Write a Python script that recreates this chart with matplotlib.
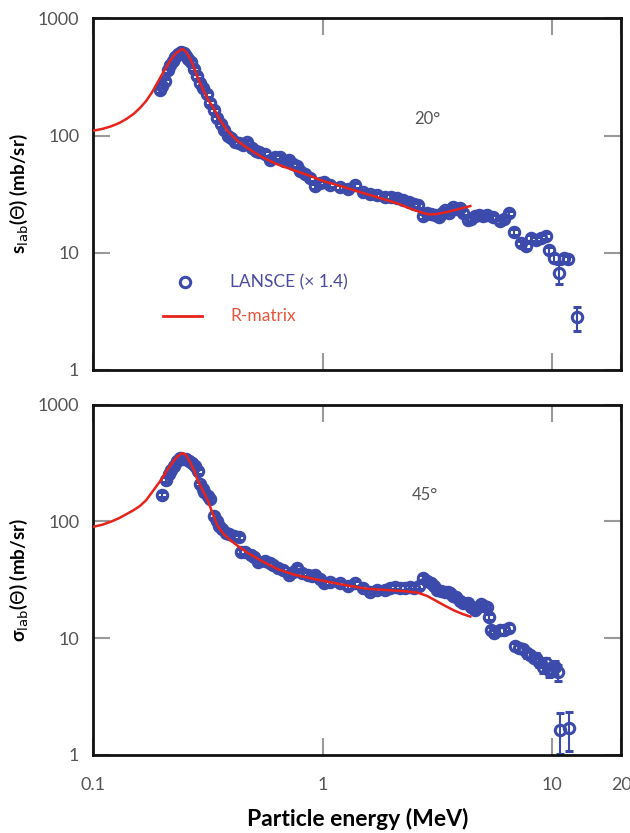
import numpy as np
import matplotlib
matplotlib.use("Agg")
import matplotlib.pyplot as plt

# LANSCE data, 20 deg (MeV, mb/sr)
e20 = [0.196, 0.200, 0.206, 0.212, 0.216, 0.222, 0.228, 0.235, 0.242, 0.248,
       0.254, 0.260, 0.267, 0.275, 0.284, 0.293, 0.302, 0.312, 0.324, 0.335,
       0.348, 0.360, 0.372, 0.385, 0.400, 0.415, 0.430, 0.450, 0.470, 0.490,
       0.510, 0.530, 0.560, 0.590, 0.620, 0.650, 0.680, 0.710, 0.740, 0.770,
       0.800, 0.840, 0.880, 0.930, 0.970, 1.010, 1.080, 1.190, 1.290, 1.390,
       1.500, 1.610, 1.730, 1.860, 1.980, 2.100, 2.230, 2.370, 2.500, 2.600,
       2.740, 2.850, 2.970, 3.080, 3.200, 3.300, 3.400, 3.550, 3.700, 3.850,
       3.950, 4.100, 4.300, 4.450, 4.600, 4.800, 5.000, 5.200, 5.550, 5.900,
       6.200, 6.500, 6.850, 7.300, 7.700, 8.100, 8.500, 8.900, 9.400, 9.700,
       10.20, 10.70, 11.30, 11.70, 12.80]
s20 = [243, 265, 290, 360, 400, 430, 470, 500, 515, 505,
       480, 450, 420, 370, 320, 280, 253, 225, 190, 165,
       140, 125, 112, 100, 95, 88, 86, 83, 88, 78,
       74, 72, 70, 62, 66, 65, 60, 62, 57, 55,
       50, 47, 43, 37, 39, 40, 38, 36, 35, 37.7,
       33, 31.6, 31, 30, 30, 29, 28, 27, 26, 25.5,
       20.5, 22, 21.5, 21, 20, 22, 23, 22, 24.5, 23.5,
       24, 22, 19, 19.5, 20.5, 21, 20.5, 21, 20, 18.5,
       19.5, 21.8, 15, 12, 11.5, 13.4, 12.8, 13.4, 14, 10.5,
       9, 6.7, 9, 8.8, 2.8]
err20 = [12, 13, 14, 18, 20, 21, 23, 25, 26, 25,
         24, 22, 21, 18, 16, 14, 13, 11, 9, 8,
         7, 6, 5.6, 5, 4.7, 4.4, 4.3, 4.1, 4.4, 3.9,
         3.7, 3.6, 3.5, 3.1, 3.3, 3.2, 3.0, 3.1, 2.8, 2.7,
         2.5, 2.3, 2.1, 1.8, 1.9, 2.0, 1.9, 1.8, 1.7, 1.9,
         1.6, 1.6, 1.5, 1.5, 1.5, 1.4, 1.4, 1.3, 1.3, 1.3,
         1.0, 1.1, 1.1, 1.0, 1.0, 1.1, 1.1, 1.1, 1.2, 1.2,
         1.2, 1.1, 1.0, 1.0, 1.0, 1.0, 1.0, 1.0, 1.0, 0.9,
         1.0, 1.1, 0.8, 0.7, 0.7, 0.8, 0.8, 0.8, 0.8, 0.7,
         0.7, 1.3, 0.6, 0.6, 0.65]

# R-matrix, 20 deg
rm20_e = [0.100, 0.110, 0.120, 0.130, 0.140, 0.150, 0.160, 0.170, 0.180, 0.190,
          0.200, 0.210, 0.220, 0.230, 0.240, 0.247, 0.255, 0.265, 0.275, 0.284,
          0.300, 0.315, 0.334, 0.355, 0.384, 0.420, 0.470, 0.540, 0.630, 0.740,
          0.860, 1.00, 1.20, 1.45, 1.75, 2.10, 2.45, 2.70, 2.90, 3.10,
          3.40, 3.80, 4.40]
rm20_s = [110, 114, 120, 128, 139, 153, 172, 197, 232, 280,
          335, 395, 455, 505, 538, 545, 510, 450, 380, 320,
          250, 205, 173, 138, 110, 92, 78, 66, 57, 51,
          46, 41, 37, 33, 29.5, 26.5, 23.5, 22, 21.2, 21.3,
          22, 23.2, 25]

# LANSCE data, 45 deg
e45 = [0.199, 0.207, 0.213, 0.218, 0.224, 0.232, 0.240, 0.247, 0.254, 0.262,
       0.270, 0.278, 0.287, 0.293, 0.300, 0.305, 0.315, 0.324, 0.337, 0.345,
       0.355, 0.365, 0.378, 0.390, 0.410, 0.430, 0.440, 0.460, 0.485, 0.500,
       0.520, 0.560, 0.590, 0.610, 0.640, 0.670, 0.710, 0.740, 0.770, 0.810,
       0.860, 0.900, 0.930, 0.970, 1.010, 1.080, 1.190, 1.290, 1.390, 1.500,
       1.610, 1.730, 1.860, 1.960, 2.060, 2.170, 2.280, 2.400, 2.500, 2.620,
       2.740, 2.850, 2.970, 3.060, 3.150, 3.280, 3.400, 3.500, 3.600, 3.700,
       3.800, 3.950, 4.100, 4.300, 4.450, 4.600, 4.750, 4.900, 5.050, 5.200,
       5.300, 5.400, 5.600, 5.900, 6.200, 6.500, 6.900, 7.200, 7.500, 7.800,
       8.000, 8.300, 8.500, 8.800, 9.100, 9.400, 9.700, 10.00, 10.30, 10.60,
       10.80, 11.80]
s45 = [170, 228, 255, 275, 300, 330, 350, 345, 340, 330,
       320, 300, 270, 210, 190, 178, 165, 155, 112, 100,
       92, 86, 80, 78, 75, 73, 55, 55, 52, 50,
       45, 46, 44, 42.5, 40, 38.5, 35, 37, 40, 36,
       35, 34, 35, 32, 29.6, 30, 29.6, 28, 29.6, 27,
       25, 26, 26, 27, 27.6, 27, 27, 27.5, 27, 28,
       33, 31, 29.6, 28, 26, 25.5, 25, 24.8, 24.5, 23,
       22.3, 21, 20, 20, 18.5, 17.4, 18.5, 19.5, 19, 18.6,
       15.3, 11.7, 11, 11.7, 11.7, 12.3, 8.5, 8.2, 8.0, 7.4,
       7.2, 6.8, 6.8, 6.2, 5.7, 6.1, 5.3, 5.4, 5.6, 5.1,
       1.64, 1.7]
err45 = [8.5, 11, 13, 14, 15, 16, 17, 17, 17, 16,
         16, 15, 13, 10, 9.5, 9, 8, 8, 5.6, 5,
         4.6, 4.3, 4, 3.9, 3.7, 3.6, 2.8, 2.8, 2.6, 2.5,
         2.3, 2.3, 2.2, 2.1, 2.0, 1.9, 1.8, 1.8, 2.0, 1.8,
         1.8, 1.7, 1.8, 1.6, 1.5, 1.5, 1.5, 1.4, 1.5, 1.4,
         1.3, 1.3, 1.3, 1.4, 1.4, 1.4, 1.4, 1.4, 1.4, 1.4,
         1.6, 1.6, 1.5, 1.4, 1.3, 1.3, 1.3, 1.3, 1.3, 1.2,
         1.2, 1.1, 1.0, 1.0, 1.0, 0.9, 1.0, 1.0, 1.0, 1.0,
         0.9, 0.8, 0.8, 0.8, 0.8, 0.8, 0.6, 0.6, 0.6, 0.6,
         0.6, 0.6, 0.6, 0.6, 0.7, 0.7, 0.7, 0.7, 0.8, 0.8,
         0.62, 0.62]

# R-matrix, 45 deg
rm45_e = [0.100, 0.110, 0.120, 0.130, 0.140, 0.150, 0.160, 0.170, 0.180, 0.190,
          0.200, 0.210, 0.220, 0.230, 0.240, 0.247, 0.255, 0.265, 0.275, 0.284,
          0.300, 0.315, 0.330, 0.348, 0.370, 0.396, 0.430, 0.470, 0.540, 0.636,
          0.750, 0.860, 1.00, 1.25, 1.55, 1.90, 2.30, 2.60, 2.85, 3.10,
          3.40, 3.75, 4.10, 4.40]
rm45_s = [90, 94, 100, 107, 116, 125, 136, 152, 177, 205,
          235, 275, 315, 352, 378, 385, 365, 320, 275, 230,
          185, 153, 120, 92, 78, 69, 61, 54, 46, 39,
          35, 33, 31, 28.5, 26.5, 25.8, 25.2, 24.5, 23, 21,
          19, 17.2, 16, 15.3]

BLUE = "#3c4bab"
RED = "#e8231c"
TICKC = "#555555"

plt.rcParams["font.family"] = ["Lato", "DejaVu Sans"]

fig = plt.figure(figsize=(6.3, 8.33), dpi=100)
ax1 = fig.add_axes([0.148, 0.556, 0.838, 0.422])
ax2 = fig.add_axes([0.148, 0.094, 0.838, 0.420])


def style(ax, show_x):
    ax.set_xscale("log")
    ax.set_yscale("log")
    ax.set_xlim(0.1, 20)
    ax.set_ylim(1, 1000)
    ax.set_xticks([0.1, 1, 10, 20])
    ax.set_yticks([1, 10, 100, 1000])
    ax.minorticks_off()
    ax.tick_params(which="major", direction="in", length=12, width=1.5,
                   color="#999999", top=True, right=True,
                   labelsize=13, labelcolor=TICKC)
    ax.tick_params(axis="y", pad=10)
    ax.tick_params(axis="x", pad=16)
    if show_x:
        ax.set_xticklabels(["0.1", "1", "10", "20"])
    else:
        ax.set_xticklabels([])
    ax.set_yticklabels(["1", "10", "100", "1000"])
    for s in ax.spines.values():
        s.set_linewidth(2)
        s.set_color("#111111")


def draw(ax, e, s, err, rm_e, rm_s):
    ax.errorbar(e, s, yerr=err, fmt="o", ms=7.5, mfc="none", mec=BLUE,
                mew=2.2, ecolor=BLUE, elinewidth=1.5, capsize=3, capthick=1.5,
                zorder=2)
    ax.plot(rm_e, rm_s, color=RED, lw=1.8, zorder=3)


style(ax1, False)
draw(ax1, e20, s20, err20, rm20_e, rm20_s)
ax1.text(0.607, 0.715, "20°", transform=ax1.transAxes, fontsize=12,
         color="#555555", va="center")
ax1.set_ylabel(r"s$_{\rm lab}$($\Theta$) (mb/sr)", fontsize=13.5,
               fontweight="bold")
ax1.yaxis.set_label_coords(-0.12, 0.5)

# legend drawn by hand in data coords of axes 1
ax1.plot([0.25], [5.6], "o", ms=7.5, mfc="none", mec=BLUE, mew=2.2)
ax1.plot([0.202, 0.299], [2.9, 2.9], color=RED, lw=2)
ax1.text(0.396, 5.6, "LANSCE (× 1.4)", color="#4b4ba0", fontsize=12.5,
         va="center")
ax1.text(0.396, 2.9, "R-matrix", color="#e8553a", fontsize=12.5,
         va="center")

style(ax2, True)
draw(ax2, e45, s45, err45, rm45_e, rm45_s)
ax2.text(0.603, 0.743, "45°", transform=ax2.transAxes, fontsize=12,
         color="#555555", va="center")
ax2.set_ylabel(r"σ$_{\rm lab}$($\Theta$) (mb/sr)", fontsize=13.5,
               fontweight="bold")
ax2.yaxis.set_label_coords(-0.12, 0.5)
ax2.set_xlabel("Particle energy (MeV)", fontsize=16.5, fontweight="bold",
               labelpad=11)

fig.savefig("out.png", dpi=100)
